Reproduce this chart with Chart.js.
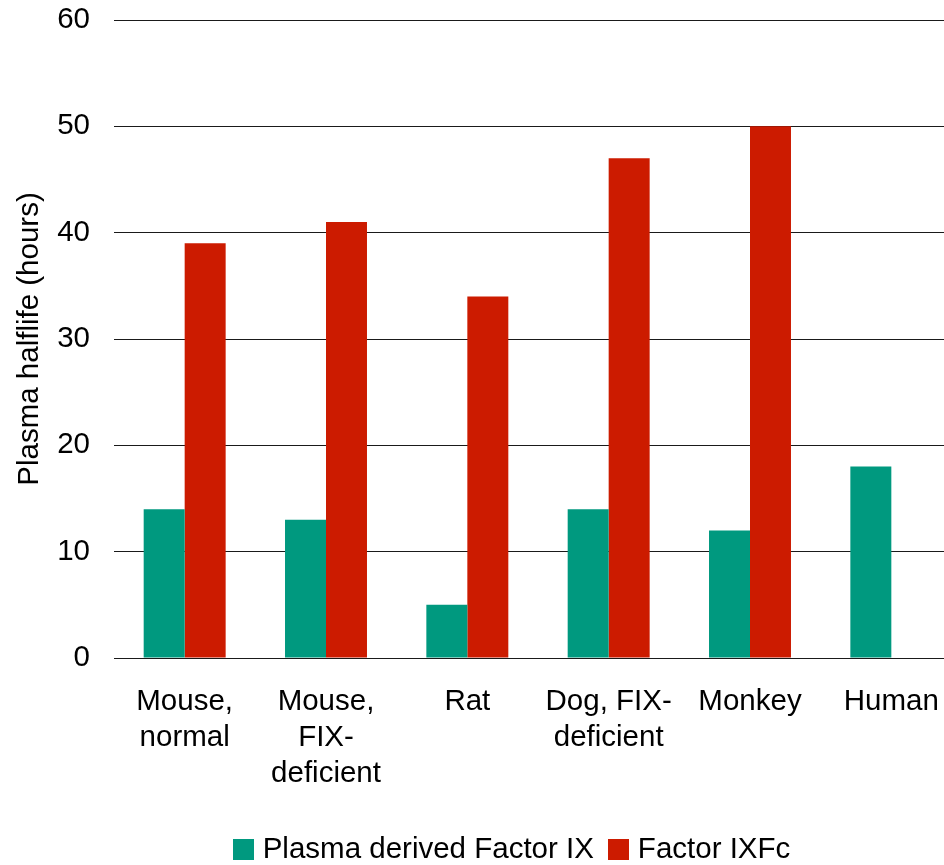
<!DOCTYPE html>
<html>
<head>
<meta charset="utf-8">
<script src="https://cdn.jsdelivr.net/npm/chart.js@4/dist/chart.umd.min.js"></script>
<style>
  html, body { margin: 0; padding: 0; background: #fff; overflow: hidden; }
  /* the plot area runs a little past the right edge of the visible frame */
  #wrap { width: 944px; height: 865px; overflow: hidden; }
  #c { display: block; }
</style>
</head>
<body>
<div id="wrap"><canvas id="c" width="962" height="865"></canvas></div>
<script>
// Species compared for plasma half-life
const categories = [
  ['Mouse,', 'normal'],
  ['Mouse,', 'FIX-', 'deficient'],
  'Rat',
  ['Dog, FIX-', 'deficient'],
  'Monkey',
  'Human'
];
// Half-life in hours
const plasmaDerivedFIX = [14, 13, 5, 14, 12, 18];
const factorIXFc = [39, 41, 34, 47, 50, null];
const yTicks = [0, 10, 20, 30, 40, 50, 60];

const FONT = "'Liberation Sans', Arial, sans-serif";
const FONT_SIZE = 29.5;

// Compact legend row: square swatch, small gap, label
const bottomLegend = {
  id: 'bottomLegend',
  afterDraw(chart) {
    const ctx = chart.ctx;
    const box = 21, textGap = 9, itemGap = 14, centerX = 511.5, centerY = 849;
    ctx.save();
    ctx.font = FONT_SIZE + 'px ' + FONT;
    ctx.textBaseline = 'middle';
    const items = chart.data.datasets.map(ds => ({
      label: ds.label, color: ds.backgroundColor, w: ctx.measureText(ds.label).width
    }));
    const total = items.reduce((s, it) => s + box + textGap + it.w, 0) + itemGap * (items.length - 1);
    let x = centerX - total / 2;
    items.forEach(it => {
      ctx.fillStyle = it.color;
      ctx.fillRect(Math.round(x), Math.round(centerY - box / 2), box, box);
      x += box + textGap;
      ctx.fillStyle = '#000';
      ctx.fillText(it.label, x, centerY + 1);
      x += it.w + itemGap;
    });
    ctx.restore();
  }
};

new Chart(document.getElementById('c'), {
  type: 'bar',
  data: {
    labels: categories,
    datasets: [
      { label: 'Plasma derived Factor IX', data: plasmaDerivedFIX, backgroundColor: '#00997F' },
      { label: 'Factor IXFc', data: factorIXFc, backgroundColor: '#CC1B00' }
    ]
  },
  options: {
    responsive: false,
    animation: false,
    devicePixelRatio: 1,
    layout: { padding: { top: 20, right: 0, left: 0, bottom: 47 } },
    datasets: { bar: { categoryPercentage: 0.58, barPercentage: 1.0 } },
    plugins: {
      tooltip: { enabled: false },
      legend: { display: false }
    },
    scales: {
      x: {
        grid: { display: false, drawTicks: false },
        border: { display: false },
        ticks: {
          font: { family: FONT, size: FONT_SIZE, lineHeight: 1.22 },
          color: '#000',
          padding: 26,
          maxRotation: 0,
          autoSkip: false
        },
        afterFit(scale) {
          scale.height = 160;
          scale.paddingLeft = 0; scale.paddingRight = 0;
        }
      },
      y: {
        min: 0,
        max: 60,
        afterBuildTicks(scale) { scale.ticks = yTicks.map(v => ({ value: v })); },
        grid: { color: '#1a1a1a', lineWidth: 1, drawTicks: false },
        border: { display: false },
        ticks: {
          font: { family: FONT, size: FONT_SIZE },
          color: '#000',
          padding: 24
        },
        title: {
          display: true,
          text: 'Plasma halflife (hours)',
          font: { family: FONT, size: FONT_SIZE },
          color: '#000',
          padding: { top: 12, bottom: 0 }
        },
        afterFit(scale) {
          scale.width = 114;
          scale.paddingTop = 0; scale.paddingBottom = 0;
        }
      }
    }
  },
  plugins: [bottomLegend]
});
</script>
</body>
</html>
